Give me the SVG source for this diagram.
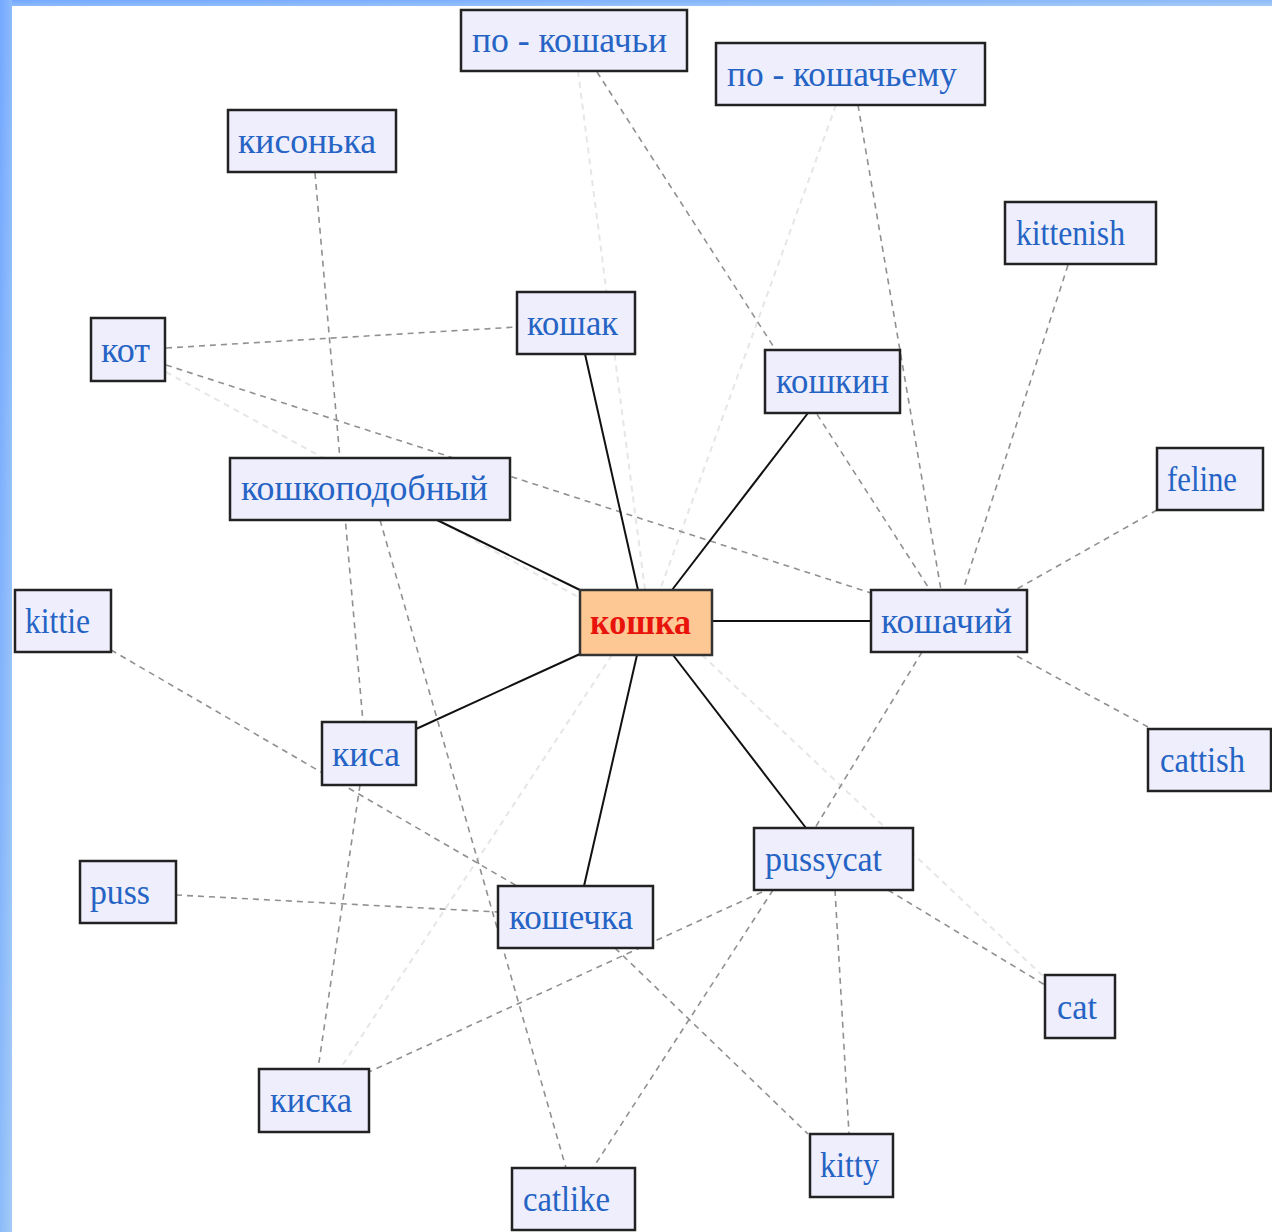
<svg xmlns="http://www.w3.org/2000/svg" width="1272" height="1232" viewBox="0 0 1272 1232">
<defs>
<linearGradient id="frame" x1="0" y1="0" x2="1" y2="1">
<stop offset="0" stop-color="#74a8ff"/>
<stop offset="1" stop-color="#a4ccf6"/>
</linearGradient>
<style>
.box{fill:#eeeefc;stroke:#222;stroke-width:2.5}
.hub{fill:#fec894;stroke:#333;stroke-width:2.5}
.lbl{font-family:"Liberation Serif","Times New Roman",serif;font-size:35px;fill:#2563c4}
.hubl{font-family:"Liberation Serif","Times New Roman",serif;font-size:35px;font-weight:bold;fill:#e8140c}
.solid{stroke:#111;stroke-width:2;fill:none}
.dash{stroke:#909090;stroke-width:1.6;stroke-dasharray:6 5;fill:none}
.faint{stroke:#e6e6e6;stroke-width:2;stroke-dasharray:6 5;fill:none}
</style>
</defs>
<rect x="0" y="0" width="1272" height="1232" fill="#ffffff"/>
<rect x="0" y="0" width="1272" height="6" fill="url(#frame)"/>
<rect x="0" y="0" width="12" height="1232" fill="url(#frame)"/>
<g id="connectors">
<g id="faint-edges">
<line class="faint" x1="578" y1="71" x2="645" y2="590"/>
<line class="faint" x1="836" y1="105" x2="660" y2="590"/>
<line class="faint" x1="166" y1="372" x2="580" y2="598"/>
<line class="faint" x1="612" y1="655" x2="340" y2="1069"/>
<line class="faint" x1="702" y1="655" x2="1045" y2="978"/>
</g>
<g id="dashed-edges">
<line class="dash" x1="315" y1="173" x2="363" y2="722"/>
<line class="dash" x1="166" y1="348" x2="517" y2="327"/>
<line class="dash" x1="166" y1="365" x2="871" y2="593"/>
<line class="dash" x1="597" y1="72" x2="930" y2="590"/>
<line class="dash" x1="858" y1="105" x2="941" y2="590"/>
<line class="dash" x1="1068" y1="265" x2="963" y2="590"/>
<line class="dash" x1="1157" y1="510" x2="1015" y2="590"/>
<line class="dash" x1="1148" y1="727" x2="1015" y2="655"/>
<line class="dash" x1="922" y1="652" x2="815" y2="828"/>
<line class="dash" x1="380" y1="520" x2="566" y2="1168"/>
<line class="dash" x1="111" y1="650" x2="517" y2="886"/>
<line class="dash" x1="360" y1="785" x2="318" y2="1069"/>
<line class="dash" x1="176" y1="895" x2="498" y2="912"/>
<line class="dash" x1="615" y1="948" x2="808" y2="1134"/>
<line class="dash" x1="762" y1="892" x2="369" y2="1072"/>
<line class="dash" x1="773" y1="890" x2="593" y2="1168"/>
<line class="dash" x1="835" y1="890" x2="849" y2="1134"/>
<line class="dash" x1="888" y1="890" x2="1045" y2="985"/>
</g>
<g id="solid-edges">
<line class="solid" x1="638" y1="590" x2="585" y2="354"/>
<line class="solid" x1="672" y1="590" x2="808" y2="413"/>
<line class="solid" x1="712" y1="621" x2="871" y2="621"/>
<line class="solid" x1="580" y1="590" x2="437" y2="520"/>
<line class="solid" x1="580" y1="654" x2="416" y2="729"/>
<line class="solid" x1="637" y1="655" x2="584" y2="886"/>
<line class="solid" x1="673" y1="655" x2="806" y2="828"/>
</g>
</g>
<g id="n-po-koshachi"><rect class="box" x="461" y="10" width="226" height="61"/><text class="lbl" x="472" y="52" textLength="195" lengthAdjust="spacingAndGlyphs">по - кошачьи</text></g>
<g id="n-po-koshachemu"><rect class="box" x="716" y="43" width="269" height="62"/><text class="lbl" x="727" y="86" textLength="230" lengthAdjust="spacingAndGlyphs">по - кошачьему</text></g>
<g id="n-kisonka"><rect class="box" x="228" y="110" width="168" height="62"/><text class="lbl" x="238" y="153" textLength="138" lengthAdjust="spacingAndGlyphs">кисонька</text></g>
<g id="n-kittenish"><rect class="box" x="1005" y="202" width="151" height="62"/><text class="lbl" x="1016" y="245" textLength="109" lengthAdjust="spacingAndGlyphs">kittenish</text></g>
<g id="n-kot"><rect class="box" x="91" y="318" width="74" height="63"/><text class="lbl" x="101" y="362" textLength="49" lengthAdjust="spacingAndGlyphs">кот</text></g>
<g id="n-koshak"><rect class="box" x="517" y="292" width="118" height="62"/><text class="lbl" x="527" y="335" textLength="91" lengthAdjust="spacingAndGlyphs">кошак</text></g>
<g id="n-koshkin"><rect class="box" x="765" y="350" width="135" height="63"/><text class="lbl" x="776" y="393" textLength="113" lengthAdjust="spacingAndGlyphs">кошкин</text></g>
<g id="n-koshkopodobny"><rect class="box" x="230" y="458" width="280" height="62"/><text class="lbl" x="241" y="500" textLength="247" lengthAdjust="spacingAndGlyphs">кошкоподобный</text></g>
<g id="n-feline"><rect class="box" x="1157" y="448" width="106" height="62"/><text class="lbl" x="1167" y="491" textLength="70" lengthAdjust="spacingAndGlyphs">feline</text></g>
<g id="n-koshka"><rect class="hub" x="580" y="590" width="132" height="65"/><text class="hubl" x="590" y="634" textLength="101" lengthAdjust="spacingAndGlyphs">кошка</text></g>
<g id="n-koshachy"><rect class="box" x="871" y="590" width="156" height="62"/><text class="lbl" x="881" y="633" textLength="131" lengthAdjust="spacingAndGlyphs">кошачий</text></g>
<g id="n-kittie"><rect class="box" x="15" y="590" width="96" height="62"/><text class="lbl" x="25" y="633" textLength="65" lengthAdjust="spacingAndGlyphs">kittie</text></g>
<g id="n-kisa"><rect class="box" x="322" y="722" width="94" height="63"/><text class="lbl" x="332" y="766" textLength="68" lengthAdjust="spacingAndGlyphs">киса</text></g>
<g id="n-cattish"><rect class="box" x="1148" y="729" width="123" height="62"/><text class="lbl" x="1160" y="772" textLength="85" lengthAdjust="spacingAndGlyphs">cattish</text></g>
<g id="n-pussycat"><rect class="box" x="754" y="828" width="159" height="62"/><text class="lbl" x="765" y="871" textLength="117" lengthAdjust="spacingAndGlyphs">pussycat</text></g>
<g id="n-puss"><rect class="box" x="80" y="861" width="96" height="62"/><text class="lbl" x="90" y="904" textLength="60" lengthAdjust="spacingAndGlyphs">puss</text></g>
<g id="n-koshechka"><rect class="box" x="498" y="886" width="155" height="62"/><text class="lbl" x="509" y="929" textLength="124" lengthAdjust="spacingAndGlyphs">кошечка</text></g>
<g id="n-cat"><rect class="box" x="1045" y="975" width="70" height="63"/><text class="lbl" x="1057" y="1019" textLength="40" lengthAdjust="spacingAndGlyphs">cat</text></g>
<g id="n-kiska"><rect class="box" x="259" y="1069" width="110" height="63"/><text class="lbl" x="270" y="1112" textLength="82" lengthAdjust="spacingAndGlyphs">киска</text></g>
<g id="n-kitty"><rect class="box" x="810" y="1134" width="83" height="63"/><text class="lbl" x="820" y="1177" textLength="59" lengthAdjust="spacingAndGlyphs">kitty</text></g>
<g id="n-catlike"><rect class="box" x="512" y="1168" width="123" height="62"/><text class="lbl" x="523" y="1211" textLength="87" lengthAdjust="spacingAndGlyphs">catlike</text></g>
</svg>
